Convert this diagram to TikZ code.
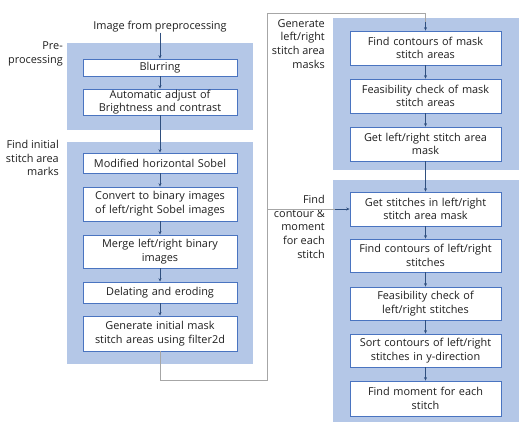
\documentclass[tikz,border=0pt]{standalone}
\usepackage{fontspec}
\setmainfont{Open Sans}
\usetikzlibrary{arrows.meta}
\definecolor{grpfill}{HTML}{B4C7E7}
\definecolor{boxline}{HTML}{4A74C0}
\definecolor{arr}{HTML}{2F4F7F}
\definecolor{loopc}{HTML}{A6A6A6}
\definecolor{txt}{HTML}{1F1F1F}
\begin{document}
\begin{tikzpicture}[x=1pt,y=-1pt,
  font=\fontsize{10.9}{13.7}\selectfont, text=txt,
  grp/.style={fill=grpfill, draw=none, inner sep=0pt},
  stepbox/.style={draw=boxline, line width=0.7pt, fill=white, text width=150pt, align=center, inner sep=0pt, minimum width=#1},
  stepbox/.default=154pt,
  lbl/.style={align=right, anchor=north east, inner sep=0pt},
  flow/.style={draw=arr, line width=0.6pt, -{Stealth[length=3.5pt,width=3pt]}},
  loopl/.style={draw=loopc, line width=0.8pt}]
\useasboundingbox (0,0) rectangle (532,436);
% groups
\node[grp, minimum width=186pt, minimum height=87pt] (g1) at (160,86.5) {};
\node[grp, minimum width=186pt, minimum height=222pt] (g2) at (160,253) {};
\node[grp, minimum width=186pt, minimum height=152pt] (g3) at (426,94) {};
\node[grp, minimum width=186pt, minimum height=242pt] (g4) at (426,301) {};
% title
\node[inner sep=0pt] (img) at (160,27) {Image from preprocessing};
% left boxes
\node[stepbox, minimum height=17pt] (blur) at (160,67.5) {Blurring};
\node[stepbox, minimum height=26pt] (auto) at (160,102) {Automatic adjust of\\Brightness and contrast};
\node[stepbox, minimum height=20pt] (sob) at (160,163) {Modified horizontal Sobel};
\node[stepbox, minimum height=34pt] (conv) at (160,204) {Convert to binary images\\of left/right Sobel images};
\node[stepbox, minimum height=33pt] (merge) at (160,251.5) {Merge left/right binary\\images};
\node[stepbox, minimum height=21pt] (dil) at (160,292.5) {Delating and eroding};
\node[stepbox, minimum height=35pt] (gen) at (160,333.5) {Generate initial mask\\stitch areas using filter2d};
% right boxes
\node[stepbox=151pt, minimum height=34pt] (fc) at (425.5,48) {Find contours of mask\\stitch areas};
\node[stepbox=151pt, minimum height=34pt] (fe) at (425.5,96) {Feasibility check of mask\\stitch areas};
\node[stepbox=151pt, minimum height=34pt] (gl) at (425.5,144) {Get left/right stitch area\\mask};
\node[stepbox=151pt, minimum height=34pt] (gs) at (425.5,209) {Get stitches in left/right\\stitch area mask};
\node[stepbox=151pt, minimum height=33pt] (fcl) at (425.5,255.5) {Find contours of left/right\\stitches};
\node[stepbox=151pt, minimum height=33pt] (fel) at (425.5,303.5) {Feasibility check of\\left/right stitches};
\node[stepbox=151pt, minimum height=33pt] (sort) at (425.5,350.5) {Sort contours of left/right\\stitches in y-direction};
\node[stepbox=151pt, minimum height=35pt] (fm) at (425.5,398.5) {Find moment for each\\stitch};
% group labels
\node[lbl] (l1) at (63,42) {Pre-\\processing};
\node[lbl] (l2) at (59,140) {Find initial\\stitch area\\marks};
\node[lbl] (l3) at (325,19) {Generate\\left/right\\stitch area\\masks};
\node[lbl] (l4) at (325,195) {Find\\contour \&\\moment\\for each\\stitch};
% loop connector
\coordinate (c1) at (160,380);
\coordinate (c2) at (267,380);
\coordinate (c3) at (267,13);
\coordinate (c4) at (425.5,13);
\coordinate (c5) at (267,209);
\draw[loopl] (gen.south) -- (c1) -- (c2) -- (c3) -- (c4) -- (425.5,22);
\draw[flow] (425.5,22) -- (fc.north);
\draw[loopl] (c5) -- (335,209);
\draw[flow] (335,209) -- (gs.west);
% flow arrows
\draw[flow] (img.south) -- (blur.north);
\draw[flow] (blur) -- (auto);
\draw[flow] (auto) -- (sob);
\draw[flow] (sob) -- (conv);
\draw[flow] (conv) -- (merge);
\draw[flow] (merge) -- (dil);
\draw[flow] (dil) -- (gen);
\draw[flow] (fc) -- (fe);
\draw[flow] (fe) -- (gl);
\draw[flow] (gl) -- (gs);
\draw[flow] (gs) -- (fcl);
\draw[flow] (fcl) -- (fel);
\draw[flow] (fel) -- (sort);
\draw[flow] (sort) -- (fm);
\end{tikzpicture}
\end{document}
